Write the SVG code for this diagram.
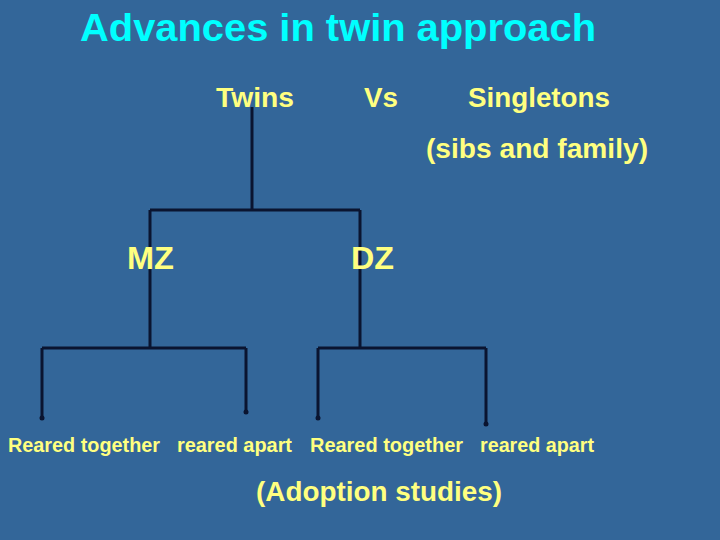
<svg xmlns="http://www.w3.org/2000/svg" width="720" height="540" viewBox="0 0 720 540">
<style>
.t{font-family:"Liberation Sans",Arial,sans-serif;font-weight:bold;fill:#FFFF80}
.title{font-family:"Liberation Sans",Arial,sans-serif;font-weight:bold;fill:#00FFFF;font-size:38px}
.c{stroke:#0A1430;stroke-width:3;fill:none}
.d{fill:#0A1430}
</style>
<rect width="720" height="540" fill="#336699"/>
<text class="title" x="80" y="41" textLength="516" lengthAdjust="spacingAndGlyphs">Advances in twin approach</text>
<g id="connectors">
<path class="c" d="M252 107V210M150 210H360M150 210V348M360 210V348M42 348H246M42 348V418M246 348V412M318 348H486M318 348V418M486 348V424"/>
<circle class="d" cx="42" cy="418" r="2.5"/>
<circle class="d" cx="246" cy="412" r="2.5"/>
<circle class="d" cx="318" cy="418" r="2.5"/>
<circle class="d" cx="486" cy="424" r="2.5"/>
</g>
<g id="twins"><text class="t" x="216" y="107" font-size="28" textLength="78" lengthAdjust="spacingAndGlyphs">Twins</text></g>
<g id="vs"><text class="t" x="364" y="107" font-size="28" textLength="34" lengthAdjust="spacingAndGlyphs">Vs</text></g>
<g id="singletons"><text class="t" x="468" y="107" font-size="28" textLength="142" lengthAdjust="spacingAndGlyphs">Singletons</text>
<text class="t" x="426" y="158" font-size="28" textLength="222" lengthAdjust="spacingAndGlyphs">(sibs and family)</text></g>
<g id="mz"><text class="t" x="127" y="269" font-size="31" textLength="47" lengthAdjust="spacingAndGlyphs">MZ</text></g>
<g id="dz"><text class="t" x="351" y="269" font-size="31" textLength="43" lengthAdjust="spacingAndGlyphs">DZ</text></g>
<g id="mz-together"><text class="t" x="8" y="452" font-size="21" textLength="152" lengthAdjust="spacingAndGlyphs">Reared together</text></g>
<g id="mz-apart"><text class="t" x="177" y="452" font-size="21" textLength="115" lengthAdjust="spacingAndGlyphs">reared apart</text></g>
<g id="dz-together"><text class="t" x="310" y="452" font-size="21" textLength="153" lengthAdjust="spacingAndGlyphs">Reared together</text></g>
<g id="dz-apart"><text class="t" x="480" y="452" font-size="21" textLength="114" lengthAdjust="spacingAndGlyphs">reared apart</text></g>
<g id="adoption"><text class="t" x="256" y="501" font-size="27" textLength="246" lengthAdjust="spacingAndGlyphs">(Adoption studies)</text></g>
</svg>
